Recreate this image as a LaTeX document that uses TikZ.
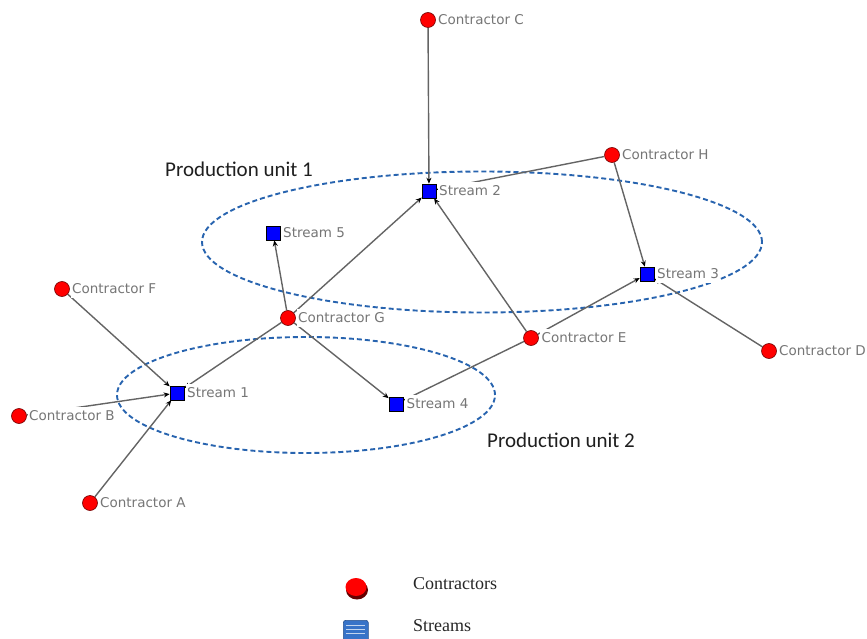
\documentclass[tikz,border=0pt]{standalone}
\usepackage{fontspec}
\setmainfont{DejaVu Sans}
\newfontfamily\calibfont{Carlito}
\newfontfamily\legfont{Liberation Serif}
\usetikzlibrary{arrows.meta,shapes.geometric}
\definecolor{labelgray}{RGB}{118,118,118}
\definecolor{edgegray}{RGB}{100,100,100}
\definecolor{unitblue}{RGB}{40,100,175}
\definecolor{legblue}{RGB}{55,115,200}
\pgfdeclarelayer{bg}
\pgfsetlayers{bg,main}
\begin{document}
\begin{tikzpicture}[x=1pt,y=-1pt,
  contractor/.style={circle, fill=red, draw=red!45!black, line width=0.6pt, minimum size=15pt, inner sep=0pt},
  stream/.style={rectangle, fill=blue, draw=black, line width=0.6pt, minimum size=14pt, inner sep=0pt},
  lbl/.style={anchor=west, fill=white, text=labelgray, font=\fontsize{13.5}{15}\selectfont, inner xsep=1.5pt, inner ysep=4pt},
  edge/.style={draw=edgegray, line width=1.4pt, -{Stealth[length=6pt,width=5pt,color=black]}},
  unit/.style={ellipse, draw=unitblue, dash pattern=on 5pt off 3pt, line width=1.9pt, inner sep=0pt},
  unitlbl/.style={anchor=base west, inner sep=0pt, text=black!88, font=\calibfont\fontsize{21}{24}\selectfont},
  leglbl/.style={anchor=base west, inner sep=0pt, text=black!85, font=\legfont\fontsize{18}{20}\selectfont}]
\useasboundingbox (0,0) rectangle (867,639);

% production units
\begin{pgfonlayer}{bg}
\node[unit, minimum width=560pt, minimum height=141pt] (PU1) at (482,242) {};
\node[unit, minimum width=378pt, minimum height=116pt] (PU2) at (306,395) {};
\end{pgfonlayer}
\node[unitlbl] (PU1l) at (165,177) {Production unit 1};
\node[unitlbl] (PU2l) at (487,447) {Production unit 2};

% contractors
\node[contractor] (C) at (428,20) {};
\node[contractor] (H) at (612,155) {};
\node[contractor] (F) at (62,289) {};
\node[contractor] (G) at (288,318) {};
\node[contractor] (E) at (531,338) {};
\node[contractor] (D) at (769,351) {};
\node[contractor] (B) at (19,416) {};
\node[contractor] (A) at (90,503) {};

% streams
\node[stream] (S2) at (429,191) {};
\node[stream] (S5) at (273,233) {};
\node[stream] (S3) at (647,274) {};
\node[stream] (S1) at (177,393) {};
\node[stream] (S4) at (396,404) {};

% connectors
\begin{pgfonlayer}{bg}
\draw[edge] (C) -- (S2);
\draw[edge] (H) -- (S2);
\draw[edge] (H) -- (S3);
\draw[edge] (G) -- (S2);
\draw[edge] (E) -- (S2);
\draw[edge] (G) -- (S5);
\draw[edge] (F) -- (S1);
\draw[edge] (B) -- (S1);
\draw[edge] (A) -- (S1);
\draw[edge] (G) -- (S1);
\draw[edge] (G) -- (S4);
\draw[edge] (E) -- (S4);
\draw[edge] (E) -- (S3);
\draw[edge] (D) -- (S3);
\end{pgfonlayer}

% labels
\node[lbl] (Cl) at (436.5,20) {Contractor C};
\node[lbl] (Hl) at (620.5,155) {Contractor H};
\node[lbl] (Fl) at (70.5,289) {Contractor F};
\node[lbl] (Gl) at (296.5,318) {Contractor G};
\node[lbl] (El) at (540,338) {Contractor E};
\node[lbl] (Dl) at (777.5,351) {Contractor D};
\node[lbl] (Bl) at (27.5,416) {Contractor B};
\node[lbl] (Al) at (98.5,503) {Contractor A};
\node[lbl] (S2l) at (437.5,191) {Stream 2};
\node[lbl] (S5l) at (281.5,233) {Stream 5};
\node[lbl] (S3l) at (655.5,274) {Stream 3};
\node[lbl] (S1l) at (185.5,393) {Stream 1};
\node[lbl] (S4l) at (405,404) {Stream 4};

% legend
\fill[red!40!black] (357,590) ellipse (11pt and 9.5pt);
\node[ellipse, fill=red, minimum width=21pt, minimum height=18pt, inner sep=0pt] (legC) at (356,587) {};
\node[anchor=north west, rounded corners=2.5pt, fill=legblue, draw=legblue!70!black, line width=0.6pt, minimum width=25pt, minimum height=24pt, inner sep=0pt] (legS) at (343,620) {};
\draw[white!70!legblue, line width=1pt] (346,625) -- (365,625) (346,629) -- (365,629) (346,633) -- (365,633);
\node[leglbl] (legCl) at (413,589) {Contractors};
\node[leglbl] (legSl) at (413,631) {Streams};
\end{tikzpicture}
\end{document}
